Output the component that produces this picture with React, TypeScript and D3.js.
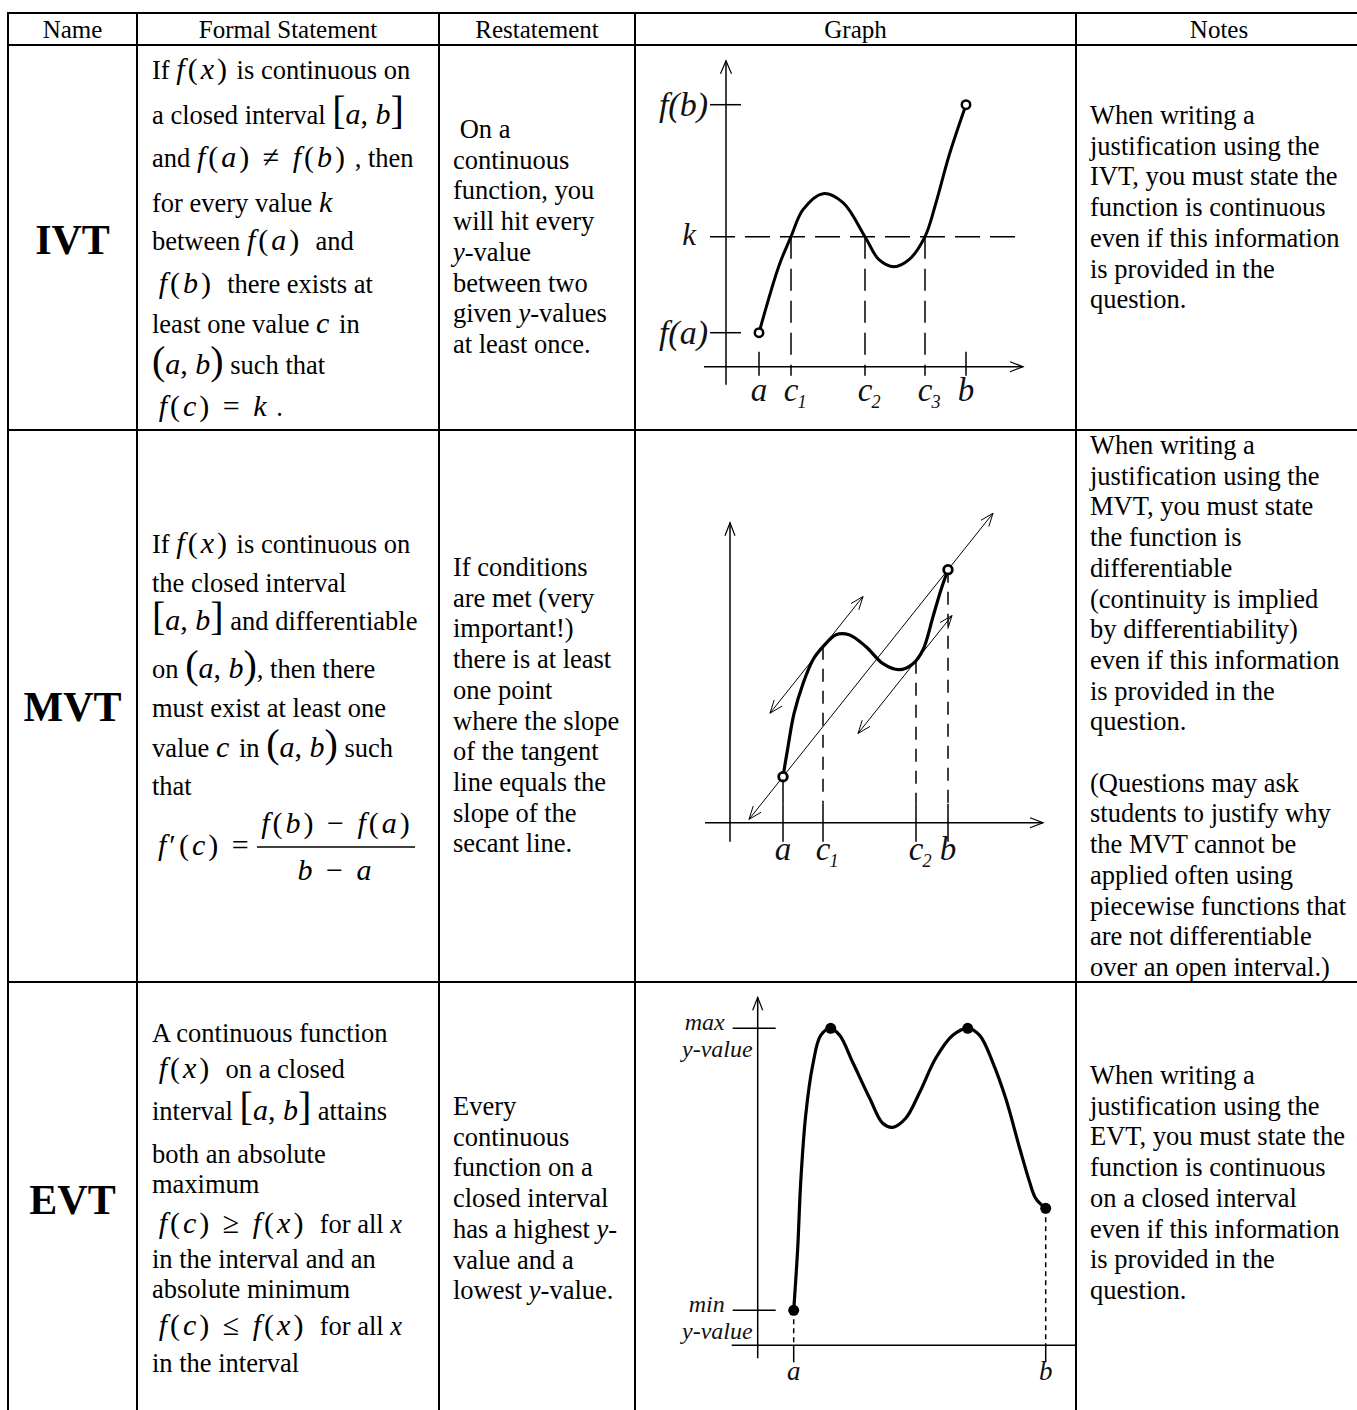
import * as d3 from 'd3';

const SERIF = '"Liberation Serif", "Times New Roman", Times, serif';

// ---- table text ----
const headers = ['Name', 'Formal Statement', 'Restatement', 'Graph', 'Notes'];
const theoremNames = ['IVT', 'MVT', 'EVT'];

// $..$ = math, %..% = large delimiters, ~..~ = italic
const ivtFormal = [
  'If $f(x)$ is continuous on',
  'a closed interval %[a, b]%',
  'and $f(a) ≠ f(b)$ , then',
  'for every value $k$',
  'between $f(a)$  and',
  ' $f(b)$  there exists at',
  'least one value $c$ in',
  '%(a, b)% such that',
  ' $f(c) = k$ .',
];
const mvtFormal = [
  'If $f(x)$ is continuous on',
  'the closed interval',
  '%[a, b]% and differentiable',
  'on %(a, b)%, then there',
  'must exist at least one',
  'value $c$ in %(a, b)% such',
  'that',
];
const mvtFraction = ['$f′(c) =$', '$f(b) − f(a)$', '$b − a$'];
const evtFormal = [
  'A continuous function',
  ' $f(x)$  on a closed',
  'interval %[a, b]% attains',
  'both an absolute',
  'maximum',
  ' $f(c) ≥ f(x)$  for all ~x~',
  'in the interval and an',
  'absolute minimum',
  ' $f(c) ≤ f(x)$  for all ~x~',
  'in the interval',
];

const ivtRestate = [' On a', 'continuous', 'function, you', 'will hit every', '~y~-value', 'between two', 'given ~y~-values', 'at least once.'];
const mvtRestate = ['If conditions', 'are met (very', 'important!)', 'there is at least', 'one point', 'where the slope', 'of the tangent', 'line equals the', 'slope of the', 'secant line.'];
const evtRestate = ['Every', 'continuous', 'function on a', 'closed interval', 'has a highest ~y~-', 'value and a', 'lowest ~y~-value.'];

const ivtNotes = ['When writing a', 'justification using the', 'IVT, you must state the', 'function is continuous', 'even if this information', 'is provided in the', 'question.'];
const mvtNotes = ['When writing a', 'justification using the', 'MVT, you must state', 'the function is', 'differentiable', '(continuity is implied', 'by differentiability)', 'even if this information', 'is provided in the', 'question.', '', '(Questions may ask', 'students to justify why', 'the MVT cannot be', 'applied often using', 'piecewise functions that', 'are not differentiable', 'over an open interval.)'];
const evtNotes = ['When writing a', 'justification using the', 'EVT, you must state the', 'function is continuous', 'on a closed interval', 'even if this information', 'is provided in the', 'question.'];

// ---- graph data (graph units, 1 unit = 10px) ----
const ivtCurve: [number, number][] = [
  [3.3, 3.4], [5.3, 10.1], [6.5, 13.0], [7.7, 15.7], [9.7, 17.3], [11.7, 16.4], [13.9, 13.0],
  [15.3, 10.7], [16.8, 10.0], [18.3, 10.7], [19.9, 13.0], [21.0, 16.4], [22.3, 21.1], [24.0, 26.2],
];
const ivtXLabels = [['a', ''], ['c', '1'], ['c', '2'], ['c', '3'], ['b', '']];
const ivtXMarks = [3.3, 6.5, 13.9, 19.9, 24.0];
const ivtYLabels = ['f(a)', 'k', 'f(b)'];
const ivtYMarks = [3.4, 13.0, 26.2];

const mvtCurve: [number, number][] = [
  [5.3, 4.6], [5.8, 7.6], [6.4, 10.9], [7.3, 13.9], [8.3, 16.3], [9.3, 17.6], [10.6, 18.8], [11.9, 18.8],
  [13.6, 17.6], [15.3, 15.9], [16.9, 15.3], [18.3, 15.9], [19.3, 17.3], [20.3, 20.6], [21.1, 23.3], [21.8, 25.3],
];
const mvtXLabels = [['a', ''], ['c', '1'], ['c', '2'], ['b', '']];
const mvtXMarks = [5.3, 9.3, 18.6, 21.8];
const mvtTangentY = [17.6, 16.2];
const mvtSecantSpan = [1.9, 26.3];
const mvtTangentSpans = [[4.0, 13.3], [12.8, 22.2]];

const evtCurve: [number, number][] = [
  [3.6, 3.5], [4.0, 9.7], [4.3, 16.3], [4.8, 23.0], [5.5, 28.0], [6.3, 31.0], [7.3, 31.7], [8.2, 31.0],
  [9.5, 28.3], [11.2, 24.7], [12.5, 22.2], [13.5, 21.8], [14.8, 22.7], [16.2, 25.3], [17.8, 28.7],
  [19.5, 31.0], [21.0, 31.7], [22.2, 31.0], [23.5, 28.3], [24.8, 24.7], [26.2, 19.7], [27.2, 16.3],
  [27.8, 14.7], [28.8, 13.7],
];
const evtDotIdx = [0, 6, 16, 23];
const evtXLabels = ['a', 'b'];
const evtXMarks = [3.6, 28.8];
const evtYLabels = [['min', 'y-value'], ['max', 'y-value']];
const evtYMarks = [3.5, 31.7];

// ---- layout ----
const COLS = [8, 137, 439, 635, 1076, 1362];
const ROWS = [13, 45, 430, 982, 1424];
const NAME_BASE = [254, 721, 1214];
const FORMAL_BASE = [
  [79, 124, 167, 212, 250, 293, 333, 374, 416],
  [553, 592, 630, 678, 717, 757, 795],
  [1042, 1078, 1120, 1163, 1193, 1233, 1268, 1298, 1335, 1372],
];
const RESTATE_TOP = [138, 576, 1115];
const NOTES_TOP = [124, 454, 1084];
const LH = 30.7;
const TXT = 26.5;
const MATH = 30;

type Run = { t: string; size: number; italic: boolean; ls: number };
function richRuns(line: string, base: number): Run[] {
  const runs: Run[] = [];
  const add = (t: string, size: number, italic: boolean, ls = 0) => {
    const last = runs[runs.length - 1];
    if (last && last.size === size && last.italic === italic && last.ls === ls) last.t += t;
    else runs.push({ t, size, italic, ls });
  };
  for (const part of line.split(/(\$[^$]*\$|%[^%]*%|~[^~]*~)/)) {
    if (!part) continue;
    const body = part.slice(1, -1);
    if (part[0] === '$') for (const ch of body) add(ch, MATH, /[a-z]/.test(ch), 3);
    else if (part[0] === '%') for (const ch of body) add(ch, /[\[\]()]/.test(ch) ? 40 : 30, /[a-z]/.test(ch));
    else if (part[0] === '~') add(body, base, true);
    else add(part, base, false);
  }
  return runs;
}

function Rich({ x, y, line, size = TXT, anchor = 'start' }: { x: number; y: number; line: string; size?: number; anchor?: string }) {
  return (
    <text x={x} y={y} fontFamily={SERIF} fontSize={size} textAnchor={anchor} fill="#000" style={{ whiteSpace: 'pre' }}>
      {richRuns(line, size).map((r, i) => (
        <tspan key={i} fontSize={r.size} fontStyle={r.italic ? 'italic' : 'normal'} letterSpacing={r.ls || undefined}>{r.t}</tspan>
      ))}
    </text>
  );
}

function arrowPath(fx: number, fy: number, tx: number, ty: number, len = 13, half = 5) {
  const a = Math.atan2(ty - fy, tx - fx);
  const bx = tx - len * Math.cos(a), by = ty - len * Math.sin(a);
  const nx = -Math.sin(a) * half, ny = Math.cos(a) * half;
  return `M${bx + nx},${by + ny}L${tx},${ty}L${bx - nx},${by - ny}`;
}

const LBL = '"Liberation Serif", serif';

function XLabel({ x, y, main, sub, size }: { x: number; y: number; main: string; sub: string; size: number }) {
  return (
    <g fill="#111" stroke="none" fontFamily={LBL} fontStyle="italic">
      <text x={x} y={y} fontSize={size} textAnchor="middle">{main}</text>
      {sub && <text x={x + size * 0.2} y={y + 7} fontSize={size * 0.55}>{sub}</text>}
    </g>
  );
}

function IvtGraph() {
  const x = d3.scaleLinear().domain([0, 10]).range([726, 826]);
  const y = d3.scaleLinear().domain([0, 10]).range([366.7, 266.7]);
  const line = d3.line<[number, number]>().x(d => x(d[0])).y(d => y(d[1])).curve(d3.curveCatmullRom.alpha(0.5));
  const [fa, k, fb] = ivtYMarks;
  const first = ivtCurve[0], last = ivtCurve[ivtCurve.length - 1];
  return (
    <g stroke="#000" fill="none" strokeWidth={1.5}>
      <line x1={x(0)} y1={y(-1.8)} x2={x(0)} y2={y(30.6)} />
      <path d={arrowPath(x(0), y(0), x(0), y(30.6), 13, 5.5)} strokeWidth={1.2} />
      <line x1={x(-2.2)} y1={y(0)} x2={x(29.7)} y2={y(0)} />
      <path d={arrowPath(x(0), y(0), x(29.7), y(0), 13, 5)} strokeWidth={1.2} />
      {[fa, fb].map((v, i) => <line key={i} x1={x(-1.6)} x2={x(1.5)} y1={y(v)} y2={y(v)} />)}
      <line x1={x(-1.6)} x2={x(29.7)} y1={y(k)} y2={y(k)} strokeDasharray="25 10" />
      {ivtXMarks.map((m, i) =>
        i === 0 || i === ivtXMarks.length - 1
          ? <line key={i} x1={x(m)} x2={x(m)} y1={y(1.5)} y2={y(-0.9)} />
          : <line key={i} x1={x(m)} x2={x(m)} y1={y(k)} y2={y(-0.9)} strokeDasharray="22 10" />
      )}
      <path d={line(ivtCurve) || ''} strokeWidth={3} strokeLinejoin="round" />
      {[first, last].map((p, i) => <circle key={i} cx={x(p[0])} cy={y(p[1])} r={4.2} fill="#fff" strokeWidth={2.5} />)}
      {ivtYLabels.map((l, i) => (
        <text key={l} x={i === 1 ? x(-3.0) : x(-1.8)} y={y(ivtYMarks[i]) + (i === 1 ? 8 : 11)} fill="#111" stroke="none"
          fontFamily={LBL} fontStyle="italic" fontSize={i === 1 ? 31 : 34} textAnchor="end">{l}</text>
      ))}
      {ivtXMarks.map((m, i) => <XLabel key={i} x={x(m)} y={y(0) + 34} main={ivtXLabels[i][0]} sub={ivtXLabels[i][1]} size={33} />)}
    </g>
  );
}

function MvtGraph() {
  const x = d3.scaleLinear().domain([0, 10]).range([730, 830]);
  const y = d3.scaleLinear().domain([0, 10]).range([822.7, 722.7]);
  const line = d3.line<[number, number]>().x(d => x(d[0])).y(d => y(d[1])).curve(d3.curveCatmullRom.alpha(0.5));
  const A = mvtCurve[0], B = mvtCurve[mvtCurve.length - 1];
  const slope = (B[1] - A[1]) / (B[0] - A[0]);
  const through = (px: number, py: number, xs: number[]) => xs.map(v => [x(v), y(py + slope * (v - px))]);
  const secant = through(A[0], A[1], mvtSecantSpan);
  const tangents = mvtTangentSpans.map((s, i) => through(mvtXMarks[i + 1], mvtTangentY[i], s));
  const dropStart = [A[1], mvtTangentY[0], mvtTangentY[1], B[1]];
  const dbl = (seg: number[][], key: string) => (
    <g key={key} strokeWidth={1}>
      <line x1={seg[0][0]} y1={seg[0][1]} x2={seg[1][0]} y2={seg[1][1]} />
      <path d={arrowPath(seg[0][0], seg[0][1], seg[1][0], seg[1][1], 13, 5)} />
      <path d={arrowPath(seg[1][0], seg[1][1], seg[0][0], seg[0][1], 13, 5)} />
    </g>
  );
  return (
    <g stroke="#000" fill="none" strokeWidth={1.5}>
      <line x1={x(0)} y1={y(-1.9)} x2={x(0)} y2={y(30.0)} />
      <path d={arrowPath(x(0), y(0), x(0), y(30.0), 13, 5)} strokeWidth={1.2} />
      <line x1={x(-2.5)} y1={y(0)} x2={x(31.3)} y2={y(0)} />
      <path d={arrowPath(x(0), y(0), x(31.3), y(0), 13, 5)} strokeWidth={1.2} />
      {mvtXMarks.map((m, i) => (
        <g key={i}>
          <line x1={x(m)} x2={x(m)} y1={y(dropStart[i])} y2={y(1.9)} strokeDasharray={i === 0 ? undefined : '13 9'} />
          <line x1={x(m)} x2={x(m)} y1={y(1.9)} y2={y(-1.9)} />
        </g>
      ))}
      {dbl(secant, 's')}
      {tangents.map((t, i) => dbl(t, 't' + i))}
      <path d={line(mvtCurve) || ''} strokeWidth={3.2} strokeLinejoin="round" />
      {[A, B].map((p, i) => <circle key={i} cx={x(p[0])} cy={y(p[1])} r={4.3} fill="#fff" strokeWidth={2.8} />)}
      {mvtXMarks.map((m, i) => <XLabel key={i} x={x(m)} y={y(0) + 37} main={mvtXLabels[i][0]} sub={mvtXLabels[i][1]} size={33} />)}
    </g>
  );
}

function EvtGraph() {
  const x = d3.scaleLinear().domain([0, 10]).range([757.7, 857.7]);
  const y = d3.scaleLinear().domain([0, 10]).range([1345.3, 1245.3]);
  const line = d3.line<[number, number]>().x(d => x(d[0])).y(d => y(d[1])).curve(d3.curveCatmullRom.alpha(0.5));
  const ends = [evtCurve[0], evtCurve[evtCurve.length - 1]];
  return (
    <g stroke="#000" fill="none" strokeWidth={1.5}>
      <line x1={x(0)} y1={y(-1.3)} x2={x(0)} y2={y(34.8)} />
      <path d={arrowPath(x(0), y(0), x(0), y(34.8), 13, 5)} strokeWidth={1.2} />
      <line x1={x(-2.6)} y1={y(0)} x2={x(31.8)} y2={y(0)} />
      {evtYMarks.map((v, i) => <line key={i} x1={x(-2.5)} x2={x(1.8)} y1={y(v)} y2={y(v)} />)}
      {evtXMarks.map((m, i) => (
        <g key={i}>
          <line x1={x(m)} x2={x(m)} y1={y(ends[i][1])} y2={y(0)} strokeDasharray="5 4" />
          <line x1={x(m)} x2={x(m)} y1={y(0)} y2={y(-1.7)} />
        </g>
      ))}
      <path d={line(evtCurve) || ''} strokeWidth={3.2} strokeLinejoin="round" />
      {evtDotIdx.map(i => <circle key={i} cx={x(evtCurve[i][0])} cy={y(evtCurve[i][1])} r={5.5} fill="#000" stroke="none" />)}
      {evtYLabels.map((l, i) => (
        <g key={i} fill="#111" stroke="none" fontFamily={LBL} fontStyle="italic" fontSize={24} textAnchor="end">
          <text x={x(-3.3)} y={y(evtYMarks[i]) + 2}>{l[0]}</text>
          <text x={x(-0.5)} y={y(evtYMarks[i]) + 29}>{l[1]}</text>
        </g>
      ))}
      {evtXMarks.map((m, i) => <XLabel key={i} x={x(m)} y={y(0) + 35} main={evtXLabels[i]} sub="" size={27} />)}
    </g>
  );
}

export default function App() {
  const formal = [ivtFormal, mvtFormal, evtFormal];
  const restate = [ivtRestate, mvtRestate, evtRestate];
  const notes = [ivtNotes, mvtNotes, evtNotes];
  const colMid = (i: number) => (COLS[i] + COLS[i + 1]) / 2;
  return (
    <svg width={1357} height={1410} style={{ position: 'absolute', left: 0, top: 0, display: 'block', background: '#fff' }}>
      <rect x={0} y={0} width={1357} height={1410} fill="#fff" />
      {/* grid */}
      <g stroke="#000" strokeWidth={2}>
        {ROWS.map((r, i) => <line key={'r' + i} x1={COLS[0] - 1} x2={1362} y1={r} y2={r} />)}
        {COLS.map((c, i) => <line key={'c' + i} x1={c} x2={c} y1={ROWS[0]} y2={1424} />)}
      </g>
      {headers.map((h, i) => (
        <text key={h} x={colMid(i)} y={38} fontFamily={SERIF} fontSize={25} textAnchor="middle">{h}</text>
      ))}
      {theoremNames.map((n, i) => (
        <text key={n} x={colMid(0)} y={NAME_BASE[i]} fontFamily={SERIF} fontSize={42} fontWeight="bold" textAnchor="middle">{n}</text>
      ))}
      {formal.map((lines, r) => lines.map((l, i) => <Rich key={r + '-' + i} x={152} y={FORMAL_BASE[r][i]} line={l} />))}
      <Rich x={158} y={855} line={mvtFraction[0]} />
      <Rich x={337} y={833} line={mvtFraction[1]} anchor="middle" />
      <line x1={257} x2={415} y1={847} y2={847} stroke="#000" strokeWidth={1.5} />
      <Rich x={336} y={880} line={mvtFraction[2]} anchor="middle" />
      {restate.map((lines, r) => lines.map((l, i) => <Rich key={'s' + r + i} x={453} y={RESTATE_TOP[r] + i * LH} line={l} />))}
      {notes.map((lines, r) => lines.map((l, i) => <Rich key={'n' + r + i} x={1090} y={NOTES_TOP[r] + i * LH} line={l} />))}
      <IvtGraph />
      <MvtGraph />
      <EvtGraph />
    </svg>
  );
}
